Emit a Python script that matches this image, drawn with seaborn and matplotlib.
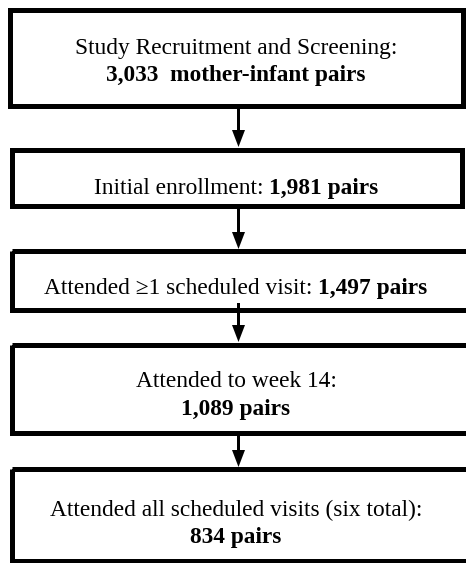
import matplotlib
matplotlib.use("Agg")
import matplotlib.pyplot as plt
from matplotlib.patches import Rectangle, FancyArrow
import seaborn as sns

# ---- data ----
stage_labels = [
    "Study Recruitment and Screening:",
    "Initial enrollment: ",
    "Attended \u22651 scheduled visit: ",
    "Attended to week 14:",
    "Attended all scheduled visits (six total):",
]
pair_counts = ["3,033", "1,981", "1,497", "1,089", "834"]
count_suffix = ["  mother-infant pairs", " pairs", " pairs", " pairs", " pairs"]
two_line = [True, False, False, True, True]

# ---- layout (pixels, y downwards) ----
W, H = 466, 563
boxes = [  # x0, x1, y0, y1 (border centre lines)
    (10, 463, 10, 105.5),
    (12, 462, 149.5, 206),
    (12, 476, 251, 309.5),
    (12, 476, 344.5, 433),
    (12, 476, 469, 561),
]
arrow_spans = [(105.5, 147), (206, 249), (303, 342), (433, 467)]
arrow_x = 238.5
text_cx = 236
baselines = [(54, 81), (194, None), (294, None), (387, 415), (516, 543)]

sns.set_theme(style="white")
plt.rcParams["font.family"] = ["Liberation Serif", "DejaVu Serif"]
plt.rcParams["text.color"] = "black"
FS = 16.8

fig = plt.figure(figsize=(W / 100, H / 100), dpi=100)
ax = fig.add_axes([0, 0, 1, 1])
ax.set_xlim(0, W)
ax.set_ylim(H, 0)
ax.axis("off")

lw = 5 * 72 / 100
for (x0, x1, y0, y1) in boxes:
    ax.add_patch(Rectangle((x0, y0), x1 - x0, y1 - y0, fill=False,
                           edgecolor="black", linewidth=lw, joinstyle="miter",
                           clip_on=True))

for (ya, yb) in arrow_spans:
    ax.add_patch(FancyArrow(arrow_x, ya, 0, yb - ya, width=3, head_width=13,
                            head_length=17, length_includes_head=True,
                            color="black", linewidth=0))

fig.canvas.draw()
renderer = fig.canvas.get_renderer()


def width_px(s, weight):
    t = ax.text(0, 0, s, fontsize=FS, fontweight=weight)
    bb = t.get_window_extent(renderer)
    t.remove()
    return bb.width


for i in range(len(stage_labels)):
    y1, y2 = baselines[i]
    if two_line[i]:
        ax.text(text_cx, y1, stage_labels[i], fontsize=FS, ha="center",
                va="baseline", color="black")
        ax.text(text_cx, y2, pair_counts[i] + count_suffix[i], fontsize=FS,
                fontweight="bold", ha="center", va="baseline", color="black")
    else:
        reg = stage_labels[i]
        bold = pair_counts[i] + count_suffix[i]
        wr = width_px(reg, "normal")
        wb = width_px(bold, "bold")
        start = text_cx - (wr + wb) / 2
        ax.text(start, y1, reg, fontsize=FS, ha="left", va="baseline",
                color="black")
        ax.text(start + wr, y1, bold, fontsize=FS, fontweight="bold",
                ha="left", va="baseline", color="black")

fig.savefig("out.png", dpi=100)
